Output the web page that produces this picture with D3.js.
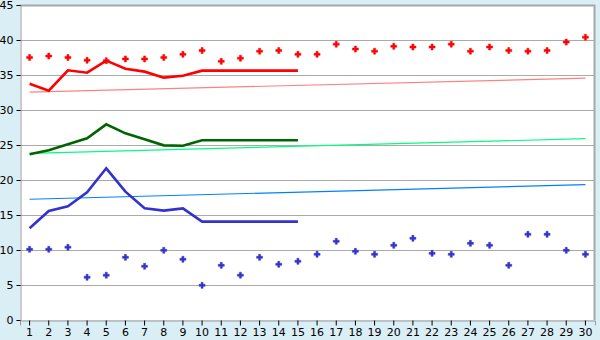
<!DOCTYPE html>
<html>
<head>
<meta charset="utf-8">
<script src="https://cdn.jsdelivr.net/npm/d3@7"></script>
<style>
  body { margin: 0; background: #daeef6; }
  #chart svg { display: block; }
  #chart text { font-family: "DejaVu Sans", sans-serif; font-size: 11px; fill: #000; }
</style>
</head>
<body>
<div id="chart"></div>
<script>
const days = d3.range(1, 31);
const yTicks = [0, 5, 10, 15, 20, 25, 30, 35, 40, 45];

// upper scatter (red) and lower scatter (blue)
const redPoints = [37.5, 37.7, 37.5, 37.1, 37.05, 37.3, 37.3, 37.5, 37.95, 38.5,
  36.95, 37.4, 38.4, 38.5, 37.95, 37.95, 39.4, 38.7, 38.4, 39.1,
  39.0, 39.0, 39.4, 38.4, 39.0, 38.5, 38.4, 38.5, 39.7, 40.4];
const bluePoints = [10.1, 10.1, 10.4, 6.1, 6.4, 8.95, 7.67, 9.95, 8.67, 4.95,
  7.81, 6.4, 8.95, 7.95, 8.38, 9.38, 11.24, 9.81, 9.38, 10.67,
  11.67, 9.52, 9.38, 10.95, 10.67, 7.81, 12.24, 12.24, 9.95, 9.38];

// thick lines, days 1-15
const redLine = [33.76, 32.76, 35.67, 35.33, 37.05, 35.9, 35.48, 34.62, 34.9, 35.62,
  35.62, 35.62, 35.62, 35.62, 35.62];
const greenLine = [23.67, 24.24, 25.1, 25.95, 27.95, 26.67, 25.81, 24.95, 24.9, 25.67,
  25.67, 25.67, 25.67, 25.67, 25.67];
const blueLine = [13.1, 15.57, 16.24, 18.24, 21.67, 18.33, 15.95, 15.62, 15.95, 14.05,
  14.05, 14.05, 14.05, 14.05, 14.05];

// thin trend lines: value at day 1 and day 30
const redTrend = [32.55, 34.55];
const greenTrend = [23.8, 25.9];
const blueTrend = [17.25, 19.35];

const width = 600, height = 340;
const plotLeft = 20, plotRight = 595, plotTop = 5, plotBottom = 320;

const svg = d3.select("#chart").append("svg")
  .attr("width", width)
  .attr("height", height);

const x = d3.scaleBand().domain(days).range([plotLeft, plotRight]);
const cx = d => x(d) + x.bandwidth() / 2;
const y = d3.scaleLinear().domain([0, 45]).range([plotBottom, plotTop]);

svg.append("rect")
  .attr("x", plotLeft).attr("y", plotTop)
  .attr("width", plotRight - plotLeft).attr("height", plotBottom - plotTop)
  .attr("fill", "#fff");

// gridlines
svg.append("g").selectAll("line")
  .data(yTicks.slice(1))
  .enter().append("line")
  .attr("x1", plotLeft).attr("x2", plotRight)
  .attr("y1", d => Math.round(y(d)) + 0.5).attr("y2", d => Math.round(y(d)) + 0.5)
  .attr("stroke", "#aaaaaa");

// frame (top and right)
svg.append("path")
  .attr("d", `M${plotLeft},${plotTop + 0.5}H${plotRight - 0.5}V${plotBottom}`)
  .attr("fill", "none").attr("stroke", "#a8a8a8").attr("stroke-width", 2);

// axes
const yAxis = svg.append("g")
  .attr("transform", `translate(${plotLeft + 0.5},0)`)
  .call(d3.axisLeft(y).tickValues(yTicks).tickSize(4).tickPadding(3));
const xAxis = svg.append("g")
  .attr("transform", `translate(0,${plotBottom + 0.5})`)
  .call(d3.axisBottom(x).tickSize(5).tickPadding(3));
[yAxis, xAxis].forEach(a => {
  a.select(".domain").attr("stroke", "#999");
  a.selectAll(".tick line").attr("stroke", "#000");
  a.selectAll("text").attr("font-size", null).attr("font-family", null);
});

// point markers (drawn under the lines)
const marker = d3.symbol().type(d3.symbolCross).size(20);
const scatter = [
  { v: redPoints, color: "#ff0000" },
  { v: bluePoints, color: "#3333cc" }
];
scatter.forEach(s => {
  svg.append("g").selectAll("path")
    .data(s.v)
    .enter().append("path")
    .attr("d", marker)
    .attr("transform", (d, i) => `translate(${cx(days[i])},${y(d)})`)
    .attr("fill", s.color)
    .attr("stroke", s.color)
    .attr("stroke-width", 0.5);
});

// trend lines
const trends = [
  { v: redTrend, color: "#ff8080" },
  { v: greenTrend, color: "#00ff80" },
  { v: blueTrend, color: "#0080ff" }
];
svg.append("g").selectAll("line")
  .data(trends)
  .enter().append("line")
  .attr("x1", cx(days[0])).attr("x2", cx(days[days.length - 1]))
  .attr("y1", d => y(d.v[0])).attr("y2", d => y(d.v[1]))
  .attr("stroke", d => d.color).attr("stroke-width", 1.2);

// thick lines
const line = d3.line().x((d, i) => cx(days[i])).y(d => y(d));
const series = [
  { v: redLine, color: "#ff0000" },
  { v: greenLine, color: "#006400" },
  { v: blueLine, color: "#3333cc" }
];
svg.append("g").selectAll("path")
  .data(series)
  .enter().append("path")
  .attr("d", d => line(d.v))
  .attr("fill", "none")
  .attr("stroke", d => d.color)
  .attr("stroke-width", 2.6);
</script>
</body>
</html>
